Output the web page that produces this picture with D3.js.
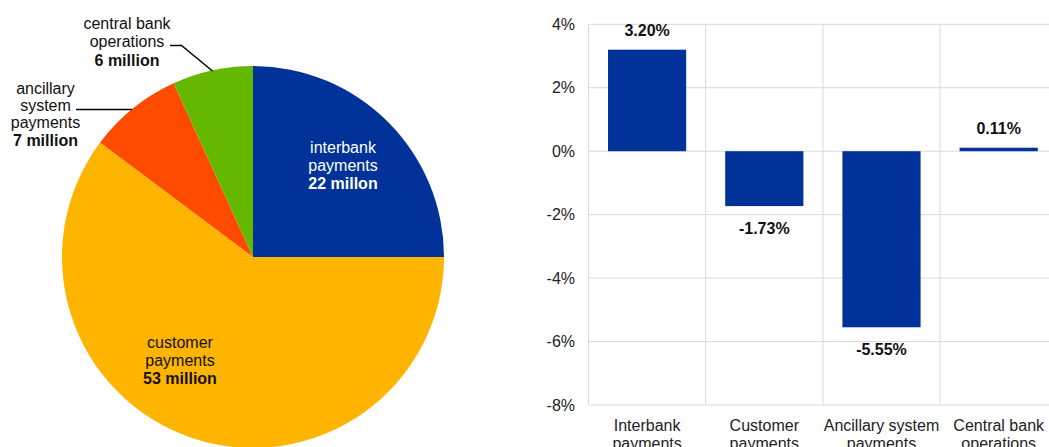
<!DOCTYPE html>
<html><head><meta charset="utf-8">
<script src="https://cdn.jsdelivr.net/npm/d3@7"></script>
<style>body{margin:0;background:#fff}svg{display:block;font-family:"Liberation Sans",Arial,sans-serif}</style>
</head><body>
<svg id="c" width="1049" height="447"></svg>
<script>
const pieNames = ["interbank payments","customer payments","ancillary system payments","central bank operations"];
const pieValues = [22, 53, 7, 6];
const pieColors = ["#003299","#FFB400","#FF4B00","#65B800"];
const barCategories = [["Interbank","payments"],["Customer","payments"],["Ancillary system","payments"],["Central bank","operations"]];
const barValues = [3.20, -1.73, -5.55, 0.11];
const barLabels = ["3.20%","-1.73%","-5.55%","0.11%"];
const yTicks = [4, 2, 0, -2, -4, -6, -8];

const svg = d3.select("#c");

// ---- Pie ----
const cx = 253, cy = 257, R = 191;
const pie = d3.pie().sort(null).value(d => d)(pieValues);
const arc = d3.arc().innerRadius(0).outerRadius(R);
const gp = svg.append("g").attr("transform", `translate(${cx},${cy})`);
gp.selectAll("path").data(pie).join("path").attr("d", arc).attr("fill", (d,i) => pieColors[i]);

function lines(x, y, arr, color, spacing) {
  arr.forEach((l, i) => {
    svg.append("text").attr("x", x).attr("y", y + i*spacing).attr("text-anchor","middle")
      .attr("dominant-baseline","central").attr("font-size", 16)
      .attr("font-weight", l[1] ? "bold" : "normal").attr("fill", color).text(l[0]);
  });
}
lines(343, 147, [["interbank"],["payments"],["22 millon",1]], "#fff", 18.3);
lines(180, 342, [["customer"],["payments"],["53 million",1]], "#111", 18.3);
lines(127, 23, [["central bank"],["operations"],["6 million",1]], "#111", 18.5);
lines(45.5, 88, [["ancillary"],["system"],["payments"],["7 million",1]], "#111", 17.4);
svg.append("path").attr("d","M170,45.5 L181.5,45.5 L212.5,71").attr("fill","none").attr("stroke","#000").attr("stroke-width",1.5);
svg.append("path").attr("d","M76,109.5 L132,109.5").attr("fill","none").attr("stroke","#000").attr("stroke-width",1.5);

// ---- Bars ----
const x = d3.scaleBand().domain(d3.range(barValues.length)).range([588.5, 1057.3]).paddingInner(0.333).paddingOuter(0.1665);
const xg = d3.scaleBand().domain(d3.range(barValues.length)).range([588.5, 1057.3]);
const y = d3.scaleLinear().domain([-8, 4]).range([405, 24.3]);
const grid = "#d9d9d9";
const gb = svg.append("g");
gb.selectAll("line.h").data(yTicks).join("line").attr("class","h")
  .attr("x1", 588.5).attr("x2", 1049).attr("y1", d => y(d)).attr("y2", d => y(d))
  .attr("stroke", grid).attr("stroke-width", 1);
gb.selectAll("line.v").data(d3.range(barValues.length)).join("line").attr("class","v")
  .attr("x1", d => xg(d)).attr("x2", d => xg(d)).attr("y1", y(4)).attr("y2", y(-8))
  .attr("stroke", grid).attr("stroke-width", 1);
gb.selectAll("text.t").data(yTicks).join("text").attr("class","t")
  .attr("x", 575).attr("y", d => y(d)).attr("text-anchor","end").attr("dominant-baseline","central")
  .attr("font-size", 16).attr("fill","#222").text(d => d + "%");
gb.selectAll("rect").data(barValues).join("rect")
  .attr("x", (d,i) => x(i)).attr("width", x.bandwidth())
  .attr("y", d => y(Math.max(0,d))).attr("height", d => Math.abs(y(d) - y(0)))
  .attr("fill", "#003299");
gb.selectAll("text.v").data(barValues).join("text").attr("class","v")
  .attr("x", (d,i) => x(i) + x.bandwidth()/2)
  .attr("y", d => d >= 0 ? y(d) - 19 : y(d) + 22.5)
  .attr("text-anchor","middle").attr("dominant-baseline","central")
  .attr("font-size", 16).attr("font-weight","bold").attr("fill","#111")
  .text((d,i) => barLabels[i]);
barCategories.forEach((c, i) => {
  c.forEach((l, j) => {
    gb.append("text").attr("x", xg(i) + xg.bandwidth()/2).attr("y", 425 + j*18.5)
      .attr("text-anchor","middle").attr("dominant-baseline","central")
      .attr("font-size", 16).attr("fill","#222").text(l);
  });
});
</script>
</body></html>
